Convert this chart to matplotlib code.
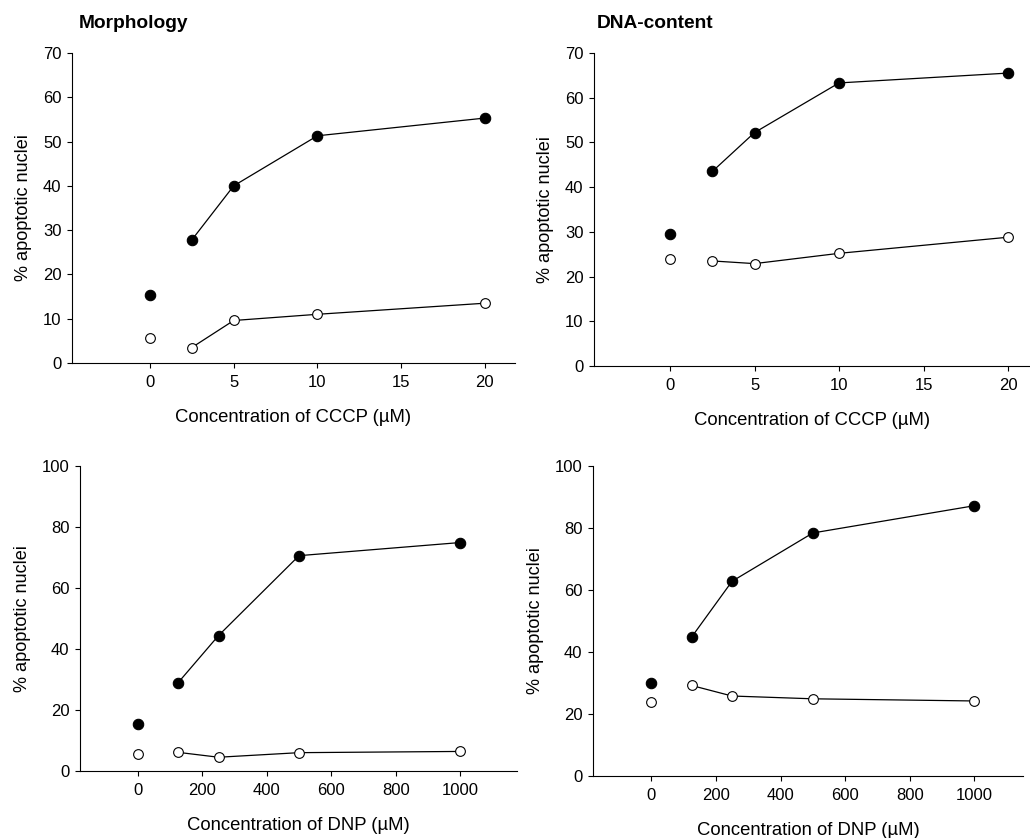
import matplotlib
matplotlib.use("Agg")
import matplotlib.pyplot as plt

plt.rcParams['font.family'] = ['Liberation Sans', 'DejaVu Sans']

# CCCP panels
cccp_x = [0, 2.5, 5, 10, 20]
morph_cccp_filled = [15.4, 27.8, 40.0, 51.3, 55.3]
morph_cccp_open = [5.6, 3.5, 9.6, 11.0, 13.5]
dna_cccp_filled = [29.6, 43.5, 52.2, 63.3, 65.5]
dna_cccp_open = [23.9, 23.5, 22.9, 25.2, 28.8]

# DNP panels
dnp_x = [0, 125, 250, 500, 1000]
morph_dnp_filled = [15.3, 29.0, 44.4, 70.6, 74.9]
morph_dnp_open = [5.6, 6.1, 4.5, 6.0, 6.4]
dna_dnp_filled = [29.9, 44.8, 62.8, 78.4, 87.2]
dna_dnp_open = [24.0, 29.2, 25.8, 24.9, 24.2]

fig = plt.figure(figsize=(10.3, 8.38), dpi=100)

panels = [
    # rect, x, filled, open, xlim, ylim top, yticks, xticks, xlabel
    ([0.0699, 0.5668, 0.430, 0.370], cccp_x, morph_cccp_filled, morph_cccp_open,
     (-4.66, 21.8), 70, range(0, 71, 10), [0, 5, 10, 15, 20], 'Concentration of CCCP (µM)'),
    ([0.5767, 0.5632, 0.4233, 0.3736], cccp_x, dna_cccp_filled, dna_cccp_open,
     (-4.5, 21.3), 70, range(0, 71, 10), [0, 5, 10, 15, 20], 'Concentration of CCCP (µM)'),
    ([0.0777, 0.0800, 0.4243, 0.3639], dnp_x, morph_dnp_filled, morph_dnp_open,
     (-180, 1177), 100, range(0, 101, 20), [0, 200, 400, 600, 800, 1000], 'Concentration of DNP (µM)'),
    ([0.5757, 0.0740, 0.4175, 0.3699], dnp_x, dna_dnp_filled, dna_dnp_open,
     (-180, 1150), 100, range(0, 101, 20), [0, 200, 400, 600, 800, 1000], 'Concentration of DNP (µM)'),
]

for rect, x, filled, opn, xlim, ytop, yt, xt, xlabel in panels:
    ax = fig.add_axes(rect)
    # control point (0) stands alone, the rest are connected
    ax.plot(x[1:], filled[1:], color='black', lw=0.9, marker='o', ms=7.5,
            mfc='black', mec='black', mew=0.8)
    ax.plot(x[:1], filled[:1], ls='none', marker='o', ms=7.5,
            mfc='black', mec='black', mew=0.8)
    ax.plot(x[1:], opn[1:], color='black', lw=0.9, marker='o', ms=7.0,
            mfc='white', mec='black', mew=0.8)
    ax.plot(x[:1], opn[:1], ls='none', marker='o', ms=7.0,
            mfc='white', mec='black', mew=0.8)
    ax.set_xlim(*xlim)
    ax.set_ylim(0, ytop)
    ax.set_xticks(xt)
    ax.set_yticks(list(yt))
    for s in ['top', 'right']:
        ax.spines[s].set_visible(False)
    for s in ['left', 'bottom']:
        ax.spines[s].set_linewidth(0.8)
    ax.tick_params(direction='out', length=3.5, width=0.8, labelsize=12, pad=4)
    ax.tick_params(axis='x', pad=5)
    ax.set_xlabel(xlabel, fontsize=13.3, labelpad=13.5)
    ax.set_ylabel('% apoptotic nuclei', fontsize=13.1, labelpad=8)
    for m in ax.lines:
        m.set_clip_on(False)

fig.text(79 / 1030, 1 - 23 / 838, 'Morphology', fontsize=13.8, fontweight='bold', va='center')
fig.text(597 / 1030, 1 - 23 / 838, 'DNA-content', fontsize=13.8, fontweight='bold', va='center')

fig.savefig('out.png', dpi=100)
